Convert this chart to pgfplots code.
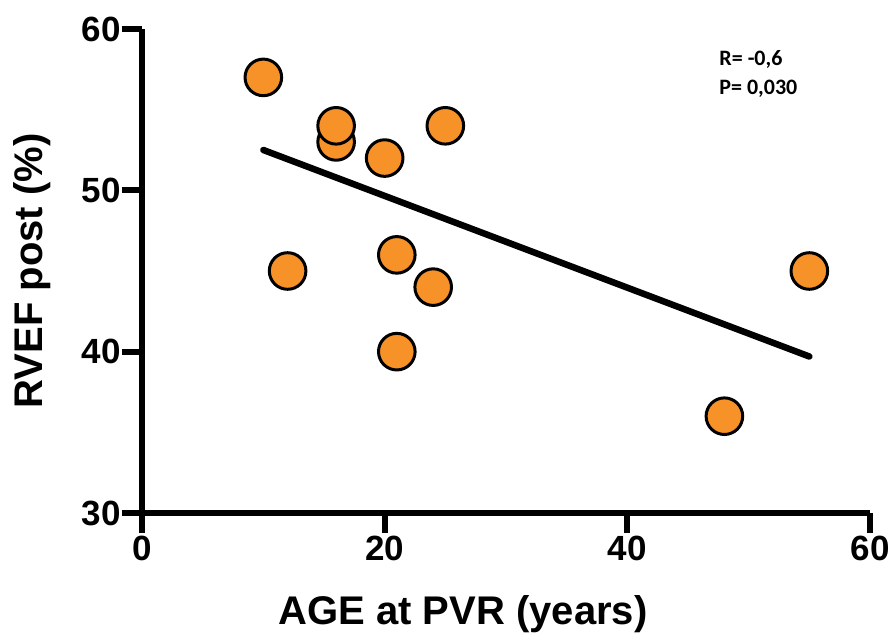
\documentclass[border=0pt]{standalone}
\usepackage{pgfplots}
\pgfplotsset{compat=1.18}
\usepackage{fontspec}
\setmainfont{Liberation Sans}
\newfontfamily\calibri{Carlito}
\definecolor{dotorange}{RGB}{247,146,41}
\begin{document}
\begin{tikzpicture}
\begin{axis}[
  scale only axis, width=728pt, height=484pt,
  xmin=0, xmax=60, ymin=30, ymax=60,
  xtick={0,20,40,60}, ytick={30,40,50,60},
  axis x line*=bottom, axis y line*=left,
  axis line style={line width=6pt, -},
  every tick/.style={black, line width=6pt},
  major tick length=20pt, tick align=outside,
  tick label style={font=\fontsize{35}{38}\selectfont\bfseries},
  yticklabel style={inner sep=1pt},
  /pgf/number format/assume math mode=true,
  xlabel={AGE at PVR (years)}, ylabel={RVEF post (\%)},
  label style={font=\fontsize{40}{44}\selectfont\bfseries},
  xlabel style={at={(axis description cs:0.441,-0.231)}, anchor=base},
  ylabel style={at={(axis description cs:-0.136,0.5)}, anchor=base},
  clip=false,
]
% regression line
\addplot[black, line width=6.5pt, line cap=round] coordinates {(10,52.5) (55,39.7)};
% patients
\addplot[only marks, mark=*, mark size=18.3pt,
  mark options={fill=dotorange, draw=black, line width=3pt}] coordinates {
  (10,57) (16,53) (16,54) (20,52) (25,54) (12,45)
  (21,46) (24,44) (21,40) (48,36) (55,45)
};
\node[anchor=base west, font=\calibri\fontsize{22}{26}\selectfont\bfseries]
  at (axis cs:47.3,57.75) {R= -0,6};
\node[anchor=base west, font=\calibri\fontsize{22}{26}\selectfont\bfseries]
  at (axis cs:47.3,55.95) {P= 0,030};
\end{axis}
\pgfresetboundingbox
\path[use as bounding box]
  ([shift={(-142pt,-124pt)}]current axis.south west) rectangle
  ([shift={(21pt,29pt)}]current axis.north east);
\end{tikzpicture}
\end{document}
